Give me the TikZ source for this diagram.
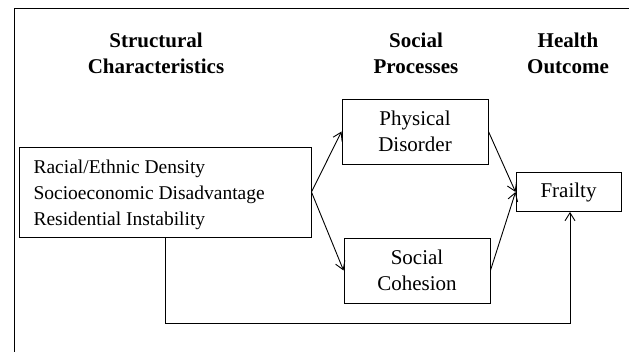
\documentclass[tikz,border=0pt]{standalone}
\usepackage{fontspec}
\setmainfont{Liberation Serif}
\usetikzlibrary{arrows.meta}
\begin{document}
\begin{tikzpicture}[x=1pt,y=-1pt,
  box/.style={draw,line width=0.9pt,inner sep=0pt,font=\fontsize{21}{26}\selectfont},
  head/.style={align=center,font=\fontsize{21}{26}\selectfont\bfseries},
  arr/.style={line width=0.9pt,-{Straight Barb[length=8pt,width=10pt]}}]
\useasboundingbox (0,0) rectangle (629,352);
\draw[line width=1pt] (14,9) rectangle (660,380);
\node[head] (h1) at (156,53) {Structural\\Characteristics};
\node[head] (h2) at (416,53) {Social\\Processes};
\node[head] (h3) at (568,53) {Health\\Outcome};
\node[box,minimum width=292pt,minimum height=90pt] (m) at (165,192) {};
\node[align=left,anchor=west,font=\fontsize{19.5}{26}\selectfont] (mt) at (30,195) {Racial/Ethnic Density\\Socioeconomic Disadvantage\\Residential Instability};
\node[box,minimum width=146pt,minimum height=65pt,align=center] (pd) at (415,131.5) {Physical\\Disorder};
\node[box,minimum width=146pt,minimum height=65pt,align=center] (sc) at (417,270.5) {Social\\Cohesion};
\node[box,minimum width=105pt,minimum height=39pt] (f) at (568.5,192) {Frailty};
\coordinate (c1) at (165,323);
\coordinate (c2) at (570,323);
\draw[arr] (m.east) -- (pd.west);
\draw[arr] (m.east) -- (sc.west);
\draw[arr] (pd.east) -- (f.west);
\draw[arr] (sc.east) -- (f.west);
\draw[arr] (m.south -| c1) -- (c1) -- (c2) -- (f.south -| c2);
\end{tikzpicture}
\end{document}
